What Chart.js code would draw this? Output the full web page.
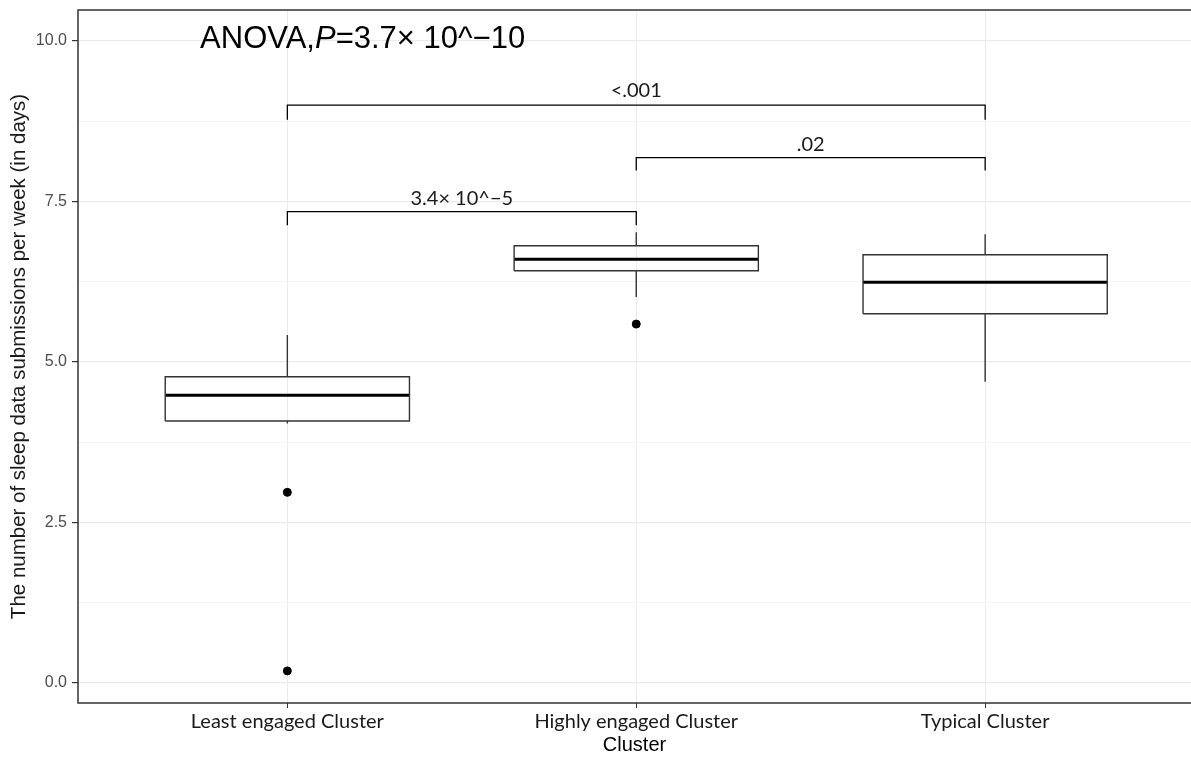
<!DOCTYPE html>
<html lang="en">
<head>
    <meta charset="UTF-8">
    <title>Sleep data submissions per cluster</title>
    <script src="https://cdn.jsdelivr.net/npm/chart.js"></script>
    <style>
        html, body { margin: 0; padding: 0; background: #fff; }
        canvas { display: block; }
    </style>
</head>
<body>
    <canvas id="grafico" width="1191" height="757"></canvas>

    <script>
        const clusters = ['Least engaged Cluster', 'Highly engaged Cluster', 'Typical Cluster'];
        const q1 = [4.08, 6.42, 5.75];
        const medianas = [4.48, 6.60, 6.24];
        const q3 = [4.77, 6.81, 6.67];
        const bigodeBaixo = [4.04, 6.01, 4.69];
        const bigodeAlto = [5.42, 7.02, 6.99];
        const outliers = [[2.97, 0.19], [5.59], []];
        const yTicks = [0, 1.25, 2.5, 3.75, 5, 6.25, 7.5, 8.75, 10];

        // comparações (ggsignif)
        const compDe = [1, 2, 1];
        const compAte = [2, 3, 3];
        const compY = [7.34, 8.18, 9.00];
        const compPonta = [7.13, 7.98, 8.77];
        const compTexto = ['3.4\u00d7 10^\u22125', '.02', '<.001'];
        const compTextoY = [7.55, 8.39, 9.23];

        const meiaLargura = 0.35;
        const datasets = [];

        clusters.forEach(function(c, i) {
            const x = i + 1;
            const a = x - meiaLargura, b = x + meiaLargura;
            // caixa
            datasets.push({
                data: [{x: a, y: q1[i]}, {x: b, y: q1[i]}, {x: b, y: q3[i]}, {x: a, y: q3[i]}, {x: a, y: q1[i]}],
                borderColor: '#333', borderWidth: 1.4
            });
            // bigodes
            datasets.push({ data: [{x: x, y: q3[i]}, {x: x, y: bigodeAlto[i]}], borderColor: '#333', borderWidth: 1.4 });
            datasets.push({ data: [{x: x, y: q1[i]}, {x: x, y: bigodeBaixo[i]}], borderColor: '#333', borderWidth: 1.4 });
            // mediana
            datasets.push({ data: [{x: a, y: medianas[i]}, {x: b, y: medianas[i]}], borderColor: '#000', borderWidth: 3 });
            // outliers
            datasets.push({
                data: outliers[i].map(function(v) { return {x: x, y: v}; }),
                showLine: false, pointRadius: 4, backgroundColor: '#000', borderColor: '#000'
            });
        });

        compDe.forEach(function(d, i) {
            datasets.push({
                data: [{x: d, y: compPonta[i]}, {x: d, y: compY[i]}, {x: compAte[i], y: compY[i]}, {x: compAte[i], y: compPonta[i]}],
                borderColor: '#000', borderWidth: 1.3
            });
        });

        datasets.forEach(function(ds) {
            if (ds.showLine === undefined) { ds.showLine = true; ds.pointRadius = 0; }
            ds.fill = false;
            ds.tension = 0;
        });

        const textos = {
            id: 'textos',
            afterDatasetsDraw(chart) {
                const ctx = chart.ctx;
                const x = chart.scales.x, y = chart.scales.y;
                ctx.save();
                ctx.fillStyle = '#1a1a1a';
                ctx.textAlign = 'center';
                ctx.textBaseline = 'middle';
                ctx.font = '20px Lato';
                compTexto.forEach(function(t, i) {
                    const cx = (compDe[i] + compAte[i]) / 2;
                    ctx.fillText(t, x.getPixelForValue(cx), y.getPixelForValue(compTextoY[i]));
                });

                // ANOVA com P em itálico
                ctx.fillStyle = '#000';
                let px = x.getPixelForValue(0.75);
                const py = y.getPixelForValue(10.02);
                ctx.textAlign = 'left';
                const partes = [['ANOVA,', 'normal'], ['P', 'italic'], ['=3.7\u00d7 10^\u221210', 'normal']];
                partes.forEach(function(p) {
                    ctx.font = p[1] + ' 31px "Liberation Sans", Arial';
                    ctx.fillText(p[0], px, py);
                    px += ctx.measureText(p[0]).width;
                });

                // borda do painel (a direita fica fora da imagem original)
                const area = chart.chartArea;
                ctx.strokeStyle = '#333';
                ctx.lineWidth = 1.5;
                ctx.beginPath();
                ctx.moveTo(area.right + 2, area.top);
                ctx.lineTo(area.left, area.top);
                ctx.lineTo(area.left, area.bottom);
                ctx.lineTo(area.right + 2, area.bottom);
                ctx.stroke();
                ctx.restore();
            }
        };

        const ehMaior = function(v) { return Math.abs(v / 2.5 - Math.round(v / 2.5)) < 1e-6; };

        new Chart(document.getElementById('grafico'), {
            type: 'scatter',
            data: { datasets: datasets },
            options: {
                responsive: false,
                animation: false,
                layout: { autoPadding: false, padding: { top: 10, right: 0, left: 0, bottom: 0 } },
                plugins: { legend: { display: false }, tooltip: { enabled: false } },
                scales: {
                    x: {
                        type: 'linear', min: 0.4, max: 3.59,
                        afterBuildTicks: function(s) { s.ticks = clusters.map(function(c, i) { return {value: i + 1}; }); },
                        afterFit: function(s) { s.height = 54; s.paddingLeft = 0; s.paddingRight = 0; },
                        ticks: {
                            callback: function(v) { return clusters[Math.round(v) - 1]; },
                            color: '#1a1a1a', font: { family: 'Lato', size: 20 },
                            padding: 2, maxRotation: 0, autoSkip: false
                        },
                        grid: { color: '#ebebeb', tickColor: '#333', tickLength: 5, lineWidth: 1 },
                        border: { display: false },
                        title: {
                            display: true, text: 'Cluster', color: '#000',
                            font: { family: '"Liberation Sans", Arial', size: 20 },
                            padding: { top: 0, bottom: 0 }
                        }
                    },
                    y: {
                        min: -0.31, max: 10.48,
                        afterBuildTicks: function(s) { s.ticks = yTicks.map(function(v) { return {value: v}; }); },
                        afterFit: function(s) { s.width = 78; s.paddingTop = 0; s.paddingBottom = 0; },
                        ticks: {
                            callback: function(v) { return ehMaior(v) ? v.toFixed(1) : ''; },
                            color: '#4d4d4d', font: { family: '"Liberation Sans", Arial', size: 16 },
                            padding: 5
                        },
                        grid: {
                            color: function(c) { return c.tick && ehMaior(c.tick.value) ? '#ebebeb' : '#f3f3f3'; },
                            lineWidth: function(c) { return c.tick && ehMaior(c.tick.value) ? 1.2 : 0.8; },
                            tickColor: function(c) { return c.tick && ehMaior(c.tick.value) ? '#333' : 'rgba(0,0,0,0)'; },
                            tickLength: 6
                        },
                        border: { display: false },
                        title: {
                            display: true, text: 'The number of sleep data submissions per week (in days)', color: '#1a1a1a',
                            font: { family: '"Liberation Sans", Arial', size: 20.5 },
                            padding: { top: 7, bottom: 0 }
                        }
                    }
                }
            },
            plugins: [textos]
        });
    </script>
</body>
</html>
